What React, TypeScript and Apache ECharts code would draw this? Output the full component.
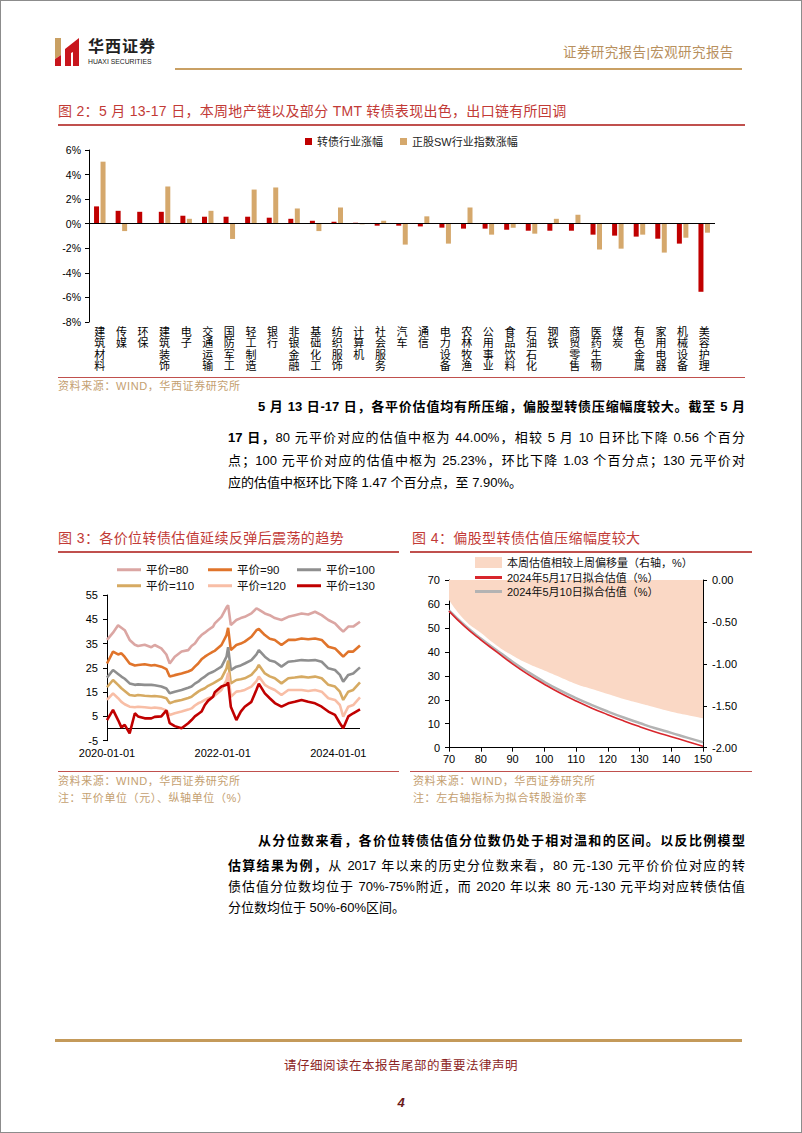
import React, { useEffect, useRef } from "react";
import * as echarts from "echarts";

// ---------- Figure 2 data ----------
const industries = [
  "建筑材料", "传媒", "环保", "建筑装饰", "电子", "交通运输", "国防军工", "轻工制造", "银行", "非银金融",
  "基础化工", "纺织服饰", "计算机", "社会服务", "汽车", "通信", "电力设备", "农林牧渔", "公用事业", "食品饮料",
  "石油石化", "钢铁", "商贸零售", "医药生物", "煤炭", "有色金属", "家用电器", "机械设备", "美容护理",
];
const cbIndustryChange = [
  1.41, 1.05, 0.97, 0.97, 0.65, 0.57, 0.57, 0.57, 0.49, 0.40,
  0.24, 0.16, 0.08, -0.16, -0.16, -0.22, -0.32, -0.40, -0.40, -0.49,
  -0.57, -0.57, -0.57, -0.89, -0.97, -1.05, -1.22, -1.62, -5.54,
];
const swIndexChange = [
  5.05, -0.60, 0.05, 3.03, 0.40, 1.05, -1.24, 2.78, 2.95, 1.24,
  -0.60, 1.32, -0.05, 0.24, -1.70, 0.60, -1.62, 1.32, -0.89, -0.32,
  -0.81, 0.40, 0.73, -2.10, -2.03, -0.89, -2.35, -1.14, -0.73,
];
const fig2YTicks = { min: -8, max: 6, interval: 2 };

// ---------- Figure 3 data ----------
const fig3Dates = [
  "2020-01-01", "2020-02-08", "2020-03-11", "2020-04-01", "2020-04-22", "2020-05-23", "2020-06-25", "2020-07-15",
  "2020-08-26", "2020-10-07", "2020-10-28", "2020-12-09", "2021-01-10", "2021-01-31", "2021-03-04", "2021-04-16",
  "2021-05-28", "2021-06-18", "2021-07-09", "2021-07-30", "2021-08-20", "2021-09-10", "2021-10-01", "2021-11-01",
  "2021-11-12", "2021-12-24", "2022-01-25", "2022-02-04", "2022-02-21", "2022-03-28", "2022-04-25", "2022-05-20",
  "2022-07-01", "2022-08-02", "2022-08-17", "2022-09-24", "2022-10-25", "2022-11-26", "2023-01-07", "2023-02-19",
  "2023-04-01", "2023-05-14", "2023-06-25", "2023-08-07", "2023-09-18", "2023-10-30", "2023-12-11", "2024-01-11",
  "2024-02-01", "2024-03-04", "2024-04-04", "2024-05-17",
];
const parity80 = [
  36.5, 39.5, 42.5, 41.5, 40.5, 36.5, 34.5, 34.0, 34.5, 33.5, 34.4, 33.0, 30.5, 26.8, 29.6, 31.7, 32.3, 34.0, 35.0, 37.0,
  38.5, 39.5, 40.6, 42.0, 43.3, 46.0, 49.9, 50.8, 42.6, 44.7, 45.5, 46.0, 47.4, 49.5, 49.0, 47.4, 46.7, 45.5, 44.7, 46.0,
  46.7, 47.4, 47.0, 48.1, 46.7, 44.7, 43.3, 41.2, 39.9, 42.0, 42.0, 44.0,
];
const parity90 = [
  26.8, 31.7, 30.5, 31.0, 29.5, 26.8, 26.0, 26.2, 26.5, 26.0, 26.2, 25.5, 24.5, 21.4, 22.0, 22.7, 23.5, 24.1, 25.5, 26.8,
  28.5, 29.6, 30.5, 31.7, 32.0, 34.4, 38.5, 41.5, 32.3, 34.4, 35.0, 35.8, 37.8, 40.5, 41.0, 38.5, 37.0, 36.5, 34.4, 36.5,
  36.5, 37.1, 36.8, 37.1, 36.5, 33.7, 33.0, 31.0, 29.6, 31.7, 31.7, 34.2,
];
const parity100 = [
  21.0, 24.1, 22.5, 21.4, 20.5, 18.6, 18.0, 18.2, 18.0, 18.0, 17.8, 17.3, 16.5, 14.5, 15.2, 15.9, 16.8, 17.3, 18.5, 19.3,
  20.5, 21.4, 22.5, 23.4, 23.8, 25.5, 29.6, 33.5, 24.1, 25.5, 26.0, 26.8, 28.2, 30.5, 32.3, 29.6, 28.0, 27.5, 25.5, 27.5,
  27.8, 28.2, 28.0, 28.2, 27.5, 24.8, 24.1, 22.1, 19.3, 22.1, 22.7, 25.2,
];
const parity110 = [
  17.0, 20.0, 18.0, 16.6, 15.5, 13.8, 13.5, 13.8, 13.5, 13.3, 13.4, 13.1, 12.5, 10.4, 11.2, 11.8, 12.6, 13.1, 14.2, 15.2,
  16.0, 16.6, 17.6, 18.6, 19.0, 20.7, 24.8, 28.0, 18.6, 20.0, 20.3, 20.7, 22.1, 24.5, 26.2, 22.7, 21.5, 20.7, 18.6, 20.7,
  21.0, 21.4, 21.0, 21.4, 20.7, 18.0, 17.3, 15.2, 11.8, 15.2, 15.9, 19.0,
];
const parity120 = [
  11.8, 14.5, 12.5, 11.0, 10.0, 9.0, 8.8, 9.0, 8.8, 8.5, 8.7, 8.3, 7.5, 5.6, 6.3, 7.0, 7.8, 8.3, 9.5, 10.4,
  11.0, 11.8, 12.5, 13.1, 13.6, 15.9, 20.0, 23.0, 13.1, 15.2, 15.5, 15.9, 17.3, 19.5, 21.4, 18.0, 16.8, 15.9, 13.8, 15.9,
  15.9, 15.9, 15.5, 15.9, 15.2, 12.5, 11.8, 9.7, 4.9, 9.0, 9.7, 12.8,
];
const parity130 = [
  3.5, 7.7, 3.5, 0.5, 1.5, -2.0, 6.3, 5.0, 4.2, 4.2, 4.8, 5.0, 7.5, 2.2, 1.0, 0.1, 2.2, 3.5, 5.0, 6.0,
  7.0, 9.7, 11.5, 13.1, 15.0, 17.3, 18.0, 19.0, 9.0, 3.5, 7.0, 9.0, 11.0, 16.0, 18.5, 14.5, 12.5, 10.5, 9.0, 10.4,
  11.0, 11.8, 11.0, 10.4, 9.0, 7.0, 5.6, 2.2, 0.1, 5.0, 6.3, 7.9,
];
const fig3Names = ["平价=80", "平价=90", "平价=100", "平价=110", "平价=120", "平价=130"];
const fig3XLabels = ["2020-01-01", "2022-01-01", "2024-01-01"];

// ---------- Figure 4 data ----------
const fig4Parity = [70, 75, 80, 85, 90, 95, 100, 105, 110, 115, 120, 125, 130, 135, 140, 145, 150];
const fig4Shift = [-0.24, -0.48, -0.63, -0.78, -0.90, -1.00, -1.08, -1.16, -1.24, -1.30, -1.36, -1.42, -1.47, -1.52, -1.57, -1.61, -1.65];
const fig4Fit0517 = [57.0, 50.5, 45.0, 40.0, 35.0, 30.5, 26.5, 22.8, 19.5, 16.5, 13.8, 11.2, 8.8, 6.6, 4.6, 2.6, 0.6];
const fig4Fit0510 = [57.3, 51.0, 45.6, 40.7, 35.9, 31.5, 27.5, 23.9, 20.7, 17.8, 15.1, 12.6, 10.3, 8.1, 6.2, 4.2, 2.3];
const fig4Names = ["本周估值相较上周偏移量（右轴，%）", "2024年5月17日拟合估值（%）", "2024年5月10日拟合估值（%）"];

const FONT = '"Liberation Sans", "Noto Sans CJK SC", sans-serif';
const RED = "#c23a36";
const TAN = "#c4a070";

const DAY0 = Date.parse("2020-01-01");
const toYears = (d: string) => (Date.parse(d) - DAY0) / (365.25 * 86400000);

function buildOption() {
  const fig3Colors = ["#dba6a3", "#e0742b", "#8f8f8f", "#d6aa62", "#f8bea6", "#c00000"];
  const fig3Data = [parity80, parity90, parity100, parity110, parity120, parity130];
  const maxYear = toYears(fig3Dates[fig3Dates.length - 1]);
  const axisLine = { show: true, lineStyle: { color: "#000", width: 1 } };
  const lbl = (size: number) => ({ color: "#000", fontSize: size, fontFamily: FONT });

  const fig3Legends = fig3Names.map((n, i) => ({
    data: [n],
    left: [117, 208, 297][i % 3],
    top: [564, 580][Math.floor(i / 3)],
    padding: 0,
    icon: "rect",
    itemWidth: 24,
    itemHeight: 3,
    textStyle: { fontSize: 11.5, color: "#111", fontFamily: FONT },
  }));
  const fig4Legends = fig4Names.map((n, i) => ({
    data: [n],
    left: 475,
    top: [557, 572, 586][i],
    padding: 0,
    icon: "rect",
    itemWidth: 27,
    itemHeight: i === 0 ? 11 : 3,
    textStyle: { fontSize: 11, color: "#111", fontFamily: FONT },
  }));

  return {
    animation: false,
    textStyle: { fontFamily: FONT },
    grid: [
      { left: 89, top: 150, width: 626, height: 172 },
      { left: 107, top: 595, width: 253, height: 145.7 },
      { left: 449, top: 580, width: 254, height: 167.7 },
    ],
    legend: [
      {
        data: ["转债行业涨幅", "正股SW行业指数涨幅"],
        left: 305,
        top: 136,
        padding: 0,
        icon: "rect",
        itemWidth: 7,
        itemHeight: 7,
        itemGap: 17,
        textStyle: { fontSize: 11, color: "#222", fontFamily: FONT },
      },
      ...fig3Legends,
      ...fig4Legends,
    ],
    xAxis: [
      {
        gridIndex: 0,
        type: "category",
        data: industries,
        axisLine: { show: false },
        axisTick: { show: false },
        axisLabel: {
          interval: 0,
          margin: 4,
          ...lbl(11),
          lineHeight: 11.4,
          verticalAlign: "top",
          formatter: (s: string) => s.split("").join("\n"),
        },
      },
      {
        gridIndex: 1,
        type: "value",
        min: 0,
        max: maxYear,
        interval: 2,
        splitLine: { show: false },
        axisLine: { show: false, onZero: false },
        axisTick: { show: false },
        axisLabel: {
          ...lbl(11),
          margin: 7,
          showMaxLabel: false,
          formatter: (v: number) => {
            const k = Math.round(v / 2);
            return Math.abs(v - k * 2) < 1e-6 ? fig3XLabels[k] || "" : "";
          },
        },
      },
      {
        gridIndex: 2,
        type: "value",
        min: 70,
        max: 150,
        interval: 10,
        splitLine: { show: false },
        axisLine,
        axisTick: { show: true, length: 4, lineStyle: { color: "#000" } },
        axisLabel: { ...lbl(11), margin: 6 },
      },
    ],
    yAxis: [
      {
        gridIndex: 0,
        type: "value",
        ...fig2YTicks,
        splitLine: { show: false },
        axisLine,
        axisTick: { show: true, length: 4, lineStyle: { color: "#000" } },
        axisLabel: { ...lbl(10.5), margin: 8, formatter: (v: number) => `${v}%` },
      },
      {
        gridIndex: 1,
        type: "value",
        min: -5,
        max: 55,
        interval: 10,
        splitLine: { show: false },
        axisLine,
        axisTick: { show: true, length: 4, lineStyle: { color: "#000" } },
        axisLabel: { ...lbl(11), margin: 9 },
      },
      {
        gridIndex: 2,
        type: "value",
        min: 0,
        max: 70,
        interval: 10,
        splitLine: { show: false },
        axisLine,
        axisTick: { show: true, length: 4, lineStyle: { color: "#000" } },
        axisLabel: { ...lbl(11), margin: 9 },
      },
      {
        gridIndex: 2,
        type: "value",
        position: "right",
        min: -2,
        max: 0,
        interval: 0.5,
        splitLine: { show: false },
        axisLine,
        axisTick: { show: true, length: 4, lineStyle: { color: "#000" } },
        axisLabel: { ...lbl(11), margin: 9, formatter: (v: number) => v.toFixed(2) },
      },
    ],
    series: [
      {
        name: "转债行业涨幅",
        type: "bar",
        xAxisIndex: 0,
        yAxisIndex: 0,
        data: cbIndustryChange,
        barWidth: 5,
        barGap: "30%",
        itemStyle: { color: "#c00000" },
        markLine: {
          silent: true,
          symbol: ["none", "none"],
          label: { show: false },
          lineStyle: { color: "#000", width: 1, type: "solid" },
          data: [{ yAxis: 0 }],
        },
      },
      {
        name: "正股SW行业指数涨幅",
        type: "bar",
        xAxisIndex: 0,
        yAxisIndex: 0,
        data: swIndexChange,
        barWidth: 5,
        barGap: "30%",
        itemStyle: { color: "#d5a86c" },
      },
      ...fig3Names.map((n, i) => ({
        name: n,
        type: "line",
        xAxisIndex: 1,
        yAxisIndex: 1,
        showSymbol: false,
        color: fig3Colors[i],
        lineStyle: { width: 2.6, color: fig3Colors[i] },
        data: fig3Dates.map((d, j) => [toYears(d), fig3Data[i][j]]),
        z: 3 + i,
        ...(i === 0
          ? {
              markLine: {
                silent: true,
                symbol: ["none", "none"],
                label: { show: false },
                lineStyle: { color: "#000", width: 1, type: "solid" },
                data: [{ yAxis: 0 }],
              },
            }
          : {}),
      })),
      {
        name: fig4Names[0],
        type: "line",
        xAxisIndex: 2,
        yAxisIndex: 3,
        showSymbol: false,
        smooth: true,
        color: "#fad8c5",
        lineStyle: { width: 0, color: "#fad8c5" },
        areaStyle: { color: "#fad8c5", opacity: 1 },
        data: fig4Parity.map((p, j) => [p, fig4Shift[j]]),
        z: 1,
      },
      {
        name: fig4Names[2],
        type: "line",
        xAxisIndex: 2,
        yAxisIndex: 2,
        showSymbol: false,
        smooth: true,
        color: "#b3b3b3",
        lineStyle: { width: 2.5, color: "#b3b3b3" },
        data: fig4Parity.map((p, j) => [p, fig4Fit0510[j]]),
        z: 2,
      },
      {
        name: fig4Names[1],
        type: "line",
        xAxisIndex: 2,
        yAxisIndex: 2,
        showSymbol: false,
        smooth: true,
        color: "#d8262c",
        lineStyle: { width: 1.6, color: "#d8262c" },
        data: fig4Parity.map((p, j) => [p, fig4Fit0517[j]]),
        z: 3,
      },
    ],
  };
}

type TP = {
  x: number;
  y: number;
  size?: number;
  color?: string;
  bold?: boolean;
  w?: number;
  justify?: boolean;
  ls?: number;
  italic?: boolean;
  center?: boolean;
  children?: React.ReactNode;
};

function T({ x, y, size = 13, color = "#000", bold, w, justify, ls = 0, italic, center, children }: TP) {
  const lh = Math.round(size * 1.5);
  return (
    <div
      style={{
        position: "absolute",
        left: x,
        top: y - lh / 2,
        width: w,
        height: lh,
        lineHeight: `${lh}px`,
        fontSize: size,
        color,
        fontWeight: bold ? 700 : 400,
        fontStyle: italic ? "italic" : "normal",
        letterSpacing: ls,
        fontFamily: FONT,
        textAlign: center ? "center" : justify ? "justify" : "left",
        textAlignLast: justify ? "justify" : undefined,
        whiteSpace: w ? "normal" : "nowrap",
      } as React.CSSProperties}
    >
      {children}
    </div>
  );
}

function HLine({ x1, x2, y, h = 1, color }: { x1: number; x2: number; y: number; h?: number; color: string }) {
  return <div style={{ position: "absolute", left: x1, top: y - h / 2, width: x2 - x1, height: h, background: color }} />;
}

export default function App() {
  const ref = useRef<HTMLDivElement>(null);
  useEffect(() => {
    if (!ref.current) return;
    const chart = echarts.init(ref.current, undefined, { renderer: "svg" });
    chart.setOption(buildOption() as any);
    return () => chart.dispose();
  }, []);

  const P = 13;
  return (
    <div
      style={{
        position: "absolute",
        left: 0,
        top: 0,
        width: 802,
        height: 1133,
        background: "#fff",
        overflow: "hidden",
        fontFamily: FONT,
      }}
    >
      <div ref={ref} style={{ position: "absolute", left: 0, top: 0, width: 802, height: 1133 }} />

      {/* header */}
      <svg style={{ position: "absolute", left: 52, top: 36 }} width={32} height={32}>
        <polygon points="3,2 9,2 9,19 3,23" fill="#c9a063" />
        <polygon points="3,23 9,19 9,30 3,30" fill="#c8161d" />
        <polygon points="13,13 27,2 27,30 21,30 21,16 19,17 19,30 13,30" fill="#c8161d" />
      </svg>
      <T x={88} y={47} size={16} bold color="#222" ls={1}>华西证券</T>
      <T x={88} y={62} size={6.8} color="#222">HUAXI SECURITIES</T>
      <T x={563} y={53} size={13.5} color="#b8905e" ls={0.4}>证券研究报告|宏观研究报告</T>
      <HLine x1={175} x2={742} y={69} h={2.5} color="#c9a064" />

      {/* figure 2 */}
      <T x={58} y={111} size={14} color={RED} ls={0.3}>图 2：5 月 13-17 日，本周地产链以及部分 TMT 转债表现出色，出口链有所回调</T>
      <HLine x1={58} x2={745} y={125} h={1.5} color="#c0504d" />
      <HLine x1={58} x2={745} y={377} h={1} color="#c0504d" />
      <T x={58} y={386} size={11} color={TAN} ls={0.6}>资料来源：WIND，华西证券研究所</T>

      {/* paragraph 1 */}
      <T x={258} y={407} size={P} w={487} justify>
        <b>5 月 13 日-17 日，各平价估值均有所压缩，偏股型转债压缩幅度较大。截至 5 月</b>
      </T>
      <T x={228} y={438} size={P} w={517} justify>
        <b>17 日，</b>80 元平价对应的估值中枢为 44.00%，相较 5 月 10 日环比下降 0.56 个百分
      </T>
      <T x={228} y={461} size={P} w={517} justify>
        点；100 元平价对应的估值中枢为 25.23%，环比下降 1.03 个百分点；130 元平价对
      </T>
      <T x={228} y={483} size={P}>应的估值中枢环比下降 1.47 个百分点，至 7.90%。</T>

      {/* figure 3 & 4 titles */}
      <T x={58} y={538} size={14} color={RED} ls={0.4}>图 3：各价位转债估值延续反弹后震荡的趋势</T>
      <HLine x1={58} x2={399} y={552} h={1.5} color="#c0504d" />
      <T x={412} y={538} size={14} color={RED} ls={0.4}>图 4：偏股型转债估值压缩幅度较大</T>
      <HLine x1={410} x2={752} y={552} h={1.5} color="#c0504d" />

      <HLine x1={58} x2={399} y={771} h={1} color="#c0504d" />
      <HLine x1={410} x2={752} y={771} h={1} color="#c0504d" />
      <T x={58} y={781} size={11} color={TAN} ls={0.6}>资料来源：WIND，华西证券研究所</T>
      <T x={58} y={798} size={11} color={TAN} ls={0.6}>注：平价单位（元）、纵轴单位（%）</T>
      <T x={413} y={781} size={11} color={TAN} ls={0.6}>资料来源：WIND，华西证券研究所</T>
      <T x={413} y={798} size={11} color={TAN} ls={0.6}>注：左右轴指标为拟合转股溢价率</T>

      {/* paragraph 2 */}
      <T x={258} y={841} size={P} w={487} justify>
        <b>从分位数来看，各价位转债估值分位数仍处于相对温和的区间。以反比例模型</b>
      </T>
      <T x={228} y={866} size={P} w={517} justify>
        <b>估算结果为例，</b>从 2017 年以来的历史分位数来看，80 元-130 元平价价位对应的转
      </T>
      <T x={228} y={887} size={P} w={517} justify>
        债估值分位数均位于 70%-75%附近，而 2020 年以来 80 元-130 元平均对应转债估值
      </T>
      <T x={228} y={908} size={P}>分位数均位于 50%-60%区间。</T>

      {/* footer */}
      <HLine x1={55} x2={742} y={1040} h={3} color="#c49a5a" />
      <T x={0} y={1066} w={802} center size={12.5} color="#8b2323" ls={0.5}>请仔细阅读在本报告尾部的重要法律声明</T>
      <T x={0} y={1103} w={802} center size={13} bold italic color="#6b1a1a">4</T>

      <div
        style={{
          position: "absolute",
          left: 0,
          top: 0,
          width: 802,
          height: 1133,
          boxSizing: "border-box",
          border: "1px solid #8c8c8c",
          pointerEvents: "none",
        }}
      />
    </div>
  );
}
